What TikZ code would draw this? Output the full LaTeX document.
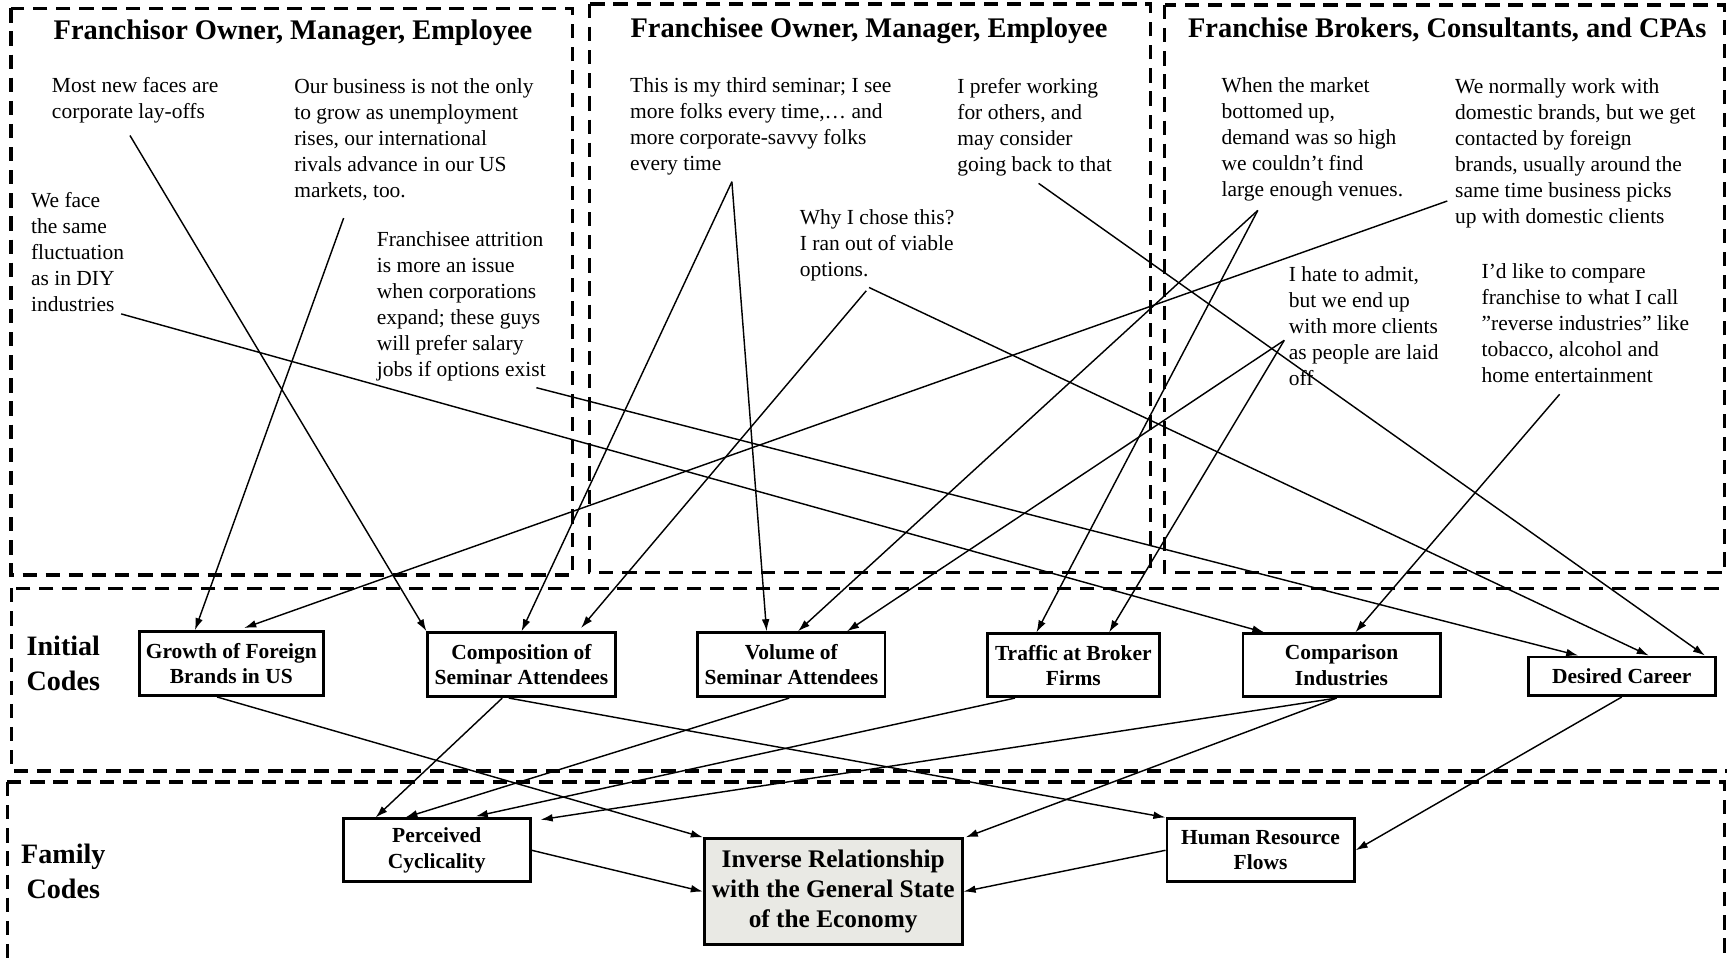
\documentclass[tikz,border=0pt]{standalone}
\usepackage{fontspec}
\setmainfont{Liberation Serif}
\usetikzlibrary{arrows.meta,calc}
\definecolor{invfill}{RGB}{233,233,228}
\tikzset{
  region/.style={line width=3pt, dash pattern=on 13pt off 8pt},
  quote/.style={anchor=base west, align=left, inner sep=0pt, font=\fontsize{19.5}{23.6}\selectfont},
  titletext/.style={anchor=base, inner sep=0pt, font=\fontsize{25.8}{30}\selectfont\bfseries},
  rowlabel/.style={anchor=base, align=center, inner sep=0pt, font=\fontsize{25.5}{32.5}\selectfont\bfseries},
  codebox/.style={draw, line width=2.6pt, align=center, inner sep=2pt, font=\fontsize{19.5}{23}\selectfont\bfseries, minimum width=170pt, minimum height=58pt},
  conn/.style={line width=1.3pt, -{Latex[length=11pt,width=7pt]}},
}
\begin{document}
\begin{tikzpicture}[x=1pt,y=-1pt]
\useasboundingbox (0,0) rectangle (1568,873);
\clip (0,0) rectangle (1568,873);

% regions
\draw[region] (10,7.5) rectangle (520,522);
\draw[region] (535,3.5) rectangle (1044.5,519.5);
\draw[region] (1057.5,4.5) rectangle (1565.5,520);
\draw[region] (10.5,534) rectangle (1575,700);
\draw[region] (6.5,710) rectangle (1565.5,890);

% titles
\node[titletext] (t1) at (266,36) {Franchisor Owner, Manager, Employee};
\node[titletext] (t2) at (789,34) {Franchisee Owner, Manager, Employee};
\node[titletext] (t3) at (1314,34) {Franchise Brokers, Consultants, and CPAs};

% row labels (anchor = baseline of last line)
\node[rowlabel] (lab1) at (57.5,627.2) {Initial\\Codes};
\node[rowlabel] (lab2) at (57.5,816.1) {Family\\Codes};

% quotes (anchor = baseline of last line)
\node[quote] (q1) at (47,107.5) {Most new faces are\\corporate lay-offs};
\node[quote] (q2) at (267,179) {Our business is not the only\\to grow as unemployment\\rises, our international\\rivals advance in our US\\markets, too.};
\node[quote] (q3) at (28,282.5) {We face\\the same\\fluctuation\\as in DIY\\industries};
\node[quote] (q4) at (342,341.5) {Franchisee attrition\\is more an issue\\when corporations\\expand; these guys\\will prefer salary\\jobs if options exist};
\node[quote] (q5) at (572,154.8) {This is my third seminar; I see\\more folks every time,\ldots\ and\\more corporate-savvy folks\\every time};
\node[quote] (q6) at (869,155.8) {I prefer working\\for others, and\\may consider\\going back to that};
\node[quote] (q7) at (726,251.3) {Why I chose this?\\I ran out of viable\\options.};
\node[quote] (q8) at (1109,178.7) {When the market\\bottomed up,\\demand was so high\\we couldn’t find\\large enough venues.};
\node[quote] (q9) at (1321,202.5) {We normally work with\\domestic brands, but we get\\contacted by foreign\\brands, usually around the\\same time business picks\\up with domestic clients};
\node[quote] (q10) at (1170,349.7) {I hate to admit,\\but we end up\\with more clients\\as people are laid\\off};
\node[quote] (q11) at (1345,347) {I’d like to compare\\franchise to what I call\\”reverse industries” like\\tobacco, alcohol and\\home entertainment};

% code boxes
\node[codebox, minimum width=167pt] (growth) at (210,602.5) {Growth of Foreign\\Brands in US};
\node[codebox] (comp) at (473.5,603.5) {Composition of\\Seminar Attendees};
\node[codebox] (volume) at (718.5,603.5) {Volume of\\Seminar Attendees};
\node[codebox, minimum width=156pt, minimum height=57pt] (traffic) at (974.5,604) {Traffic at Broker\\Firms};
\node[codebox, minimum width=179pt, minimum height=57pt] (comparison) at (1218,604) {Comparison\\Industries};
\node[codebox, minimum height=35pt] (desired) at (1472.5,614) {Desired Career};
\node[codebox, minimum height=57pt] (perceived) at (396.5,772) {Perceived\\Cyclicality};
\node[codebox, minimum width=234pt, minimum height=96pt, fill=invfill, font=\fontsize{23}{27}\selectfont\bfseries] (inverse) at (756.5,809.5) {Inverse Relationship\\with the General State\\of the Economy};
\node[codebox, minimum height=57pt] (human) at (1144.5,772) {Human Resource\\Flows};

% free ends of connectors
\coordinate (q1s) at (118,123);
\coordinate (q2s) at (312,198);
\coordinate (q3s) at (110,285);
\coordinate (q4s) at (487,352);
\coordinate (q5s) at (664.5,165);
\coordinate (q6s) at (943,166.5);
\coordinate (q7s) at (786.5,264);
\coordinate (q7b) at (789,261);
\coordinate (q8s) at (1142,191);
\coordinate (q9s) at (1314,182.5);
\coordinate (q10s) at (1166,309);
\coordinate (q11s) at (1416,358);

% quotes -> initial codes
\draw[conn] (q1s) -- (comp.north west);
\draw[conn] (q2s) -- (growth.north -| 177,0);
\draw[conn] (q3s) -- (comparison.north -| 1148,0);
\draw[conn] (q4s) -- (desired.north -| 1433,0);
\draw[conn] (q5s) -- (comp.north);
\draw[conn] (q5s) -- (volume.north -| 696,0);
\draw[conn, shorten >=4pt] (q7s) -- (comp.north -| 525,0);
\draw[conn] (q7b) -- (desired.north -| 1497,0);
\draw[conn] (q6s) -- (desired.north -| 1548,0);
\draw[conn] (q8s) -- (volume.north -| 724.5,0);
\draw[conn] (q8s) -- (traffic.north -| 941,0);
\draw[conn] (q10s) -- (volume.north -| 769,0);
\draw[conn] (q10s) -- (traffic.north -| 1007,0);
\draw[conn, shorten >=6pt] (q9s) -- (growth.north -| 216,0);
\draw[conn] (q11s) -- (comparison.north -| 1230.5,0);

% initial -> family codes
\draw[conn] (growth.south -| 197,0) -- (inverse.north west);
\draw[conn] (comp.south -| 456,0) -- (perceived.north -| 341,0);
\draw[conn] (comp.south -| 462,0) -- (human.north west);
\draw[conn] (volume.south -| 716.5,0) -- (perceived.north -| 368,0);
\draw[conn, shorten >=5pt] (traffic.south -| 921.5,0) -- (perceived.north -| 427,0);
\draw[conn] (comparison.south -| 1213.5,0) -- ([xshift=8pt,yshift=-2pt]perceived.north east);
\draw[conn] (comparison.south -| 1213.5,0) -- ([xshift=2pt]inverse.north east);
\draw[conn] (desired.south) -- (human.east);
\draw[conn] (perceived.east) -- (inverse.west);
\draw[conn] (human.west) -- (inverse.east);
\end{tikzpicture}
\end{document}
